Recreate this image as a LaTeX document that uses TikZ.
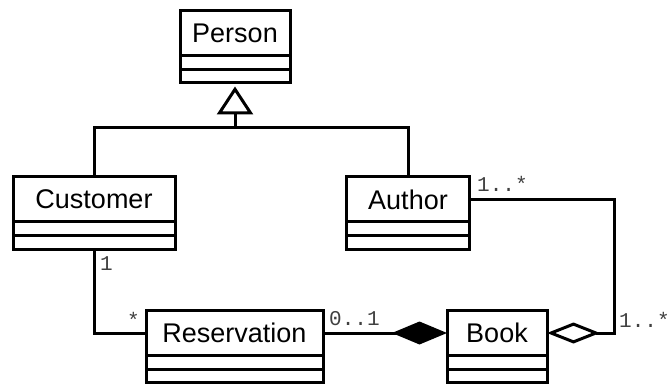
\documentclass[tikz,border=0pt]{standalone}
\usepackage{fontspec}
\setmainfont{Liberation Sans}
\newfontfamily\umlmono{Liberation Mono}
\usetikzlibrary{arrows.meta}

\tikzset{
  classname/.style={draw, line width=3pt, fill=white, outer sep=0pt, inner sep=0pt,
    minimum height=45pt, font=\fontsize{27}{31}\selectfont},
  compartment/.style={draw, line width=3pt, fill=white, outer sep=0pt, inner sep=0pt, anchor=north},
  link/.style={line width=3pt},
  mult/.style={font=\umlmono\fontsize{21}{24}\selectfont, text=black!75, inner sep=0pt, anchor=base west},
  inherit/.style={-{Triangle[open, length=28pt, width=36pt]}, shorten >=4pt},
  composite/.style={-{Diamond[length=55pt, width=23pt]}},
  shared/.style={-{Diamond[open, length=53pt, width=21pt]}},
}

% class box: name section plus two empty compartments
% #1 node name, #2 x, #3 y of the name section centre, #4 width, #5 class name
\newcommand\umlclass[5]{%
  \node[classname, minimum width=#4pt] (#1) at (#2,#3) {#5};
  \node[compartment, minimum width=#4pt, minimum height=14pt] (#1-a) at (#1.south) {};
  \node[compartment, minimum width=#4pt, minimum height=13pt] (#1-b) at (#1-a.south) {};
}

\begin{document}
\begin{tikzpicture}[x=1pt, y=-1pt]
  \useasboundingbox (0,0) rectangle (670,385);

  \umlclass{person}{235}{33}{110}{Person}
  \umlclass{cust}{94}{199.5}{162}{Customer}
  \umlclass{auth}{408}{199.5}{123}{Author}
  \umlclass{res}{234.5}{333}{177}{Reservation}
  \umlclass{book}{497}{333}{100}{Book}

  % generalisation
  \coordinate (genjoin) at (235,128);
  \draw[link] (cust.north) |- (genjoin) -| (auth.north);
  \draw[link, inherit] (genjoin) -- (person-b.south);

  % associations
  \draw[link] (cust-b.south) |- (res.west);
  \draw[link, composite] (res.east) -- (book.west);
  \draw[link, shared] (auth.east) -- ++(145,0) |- (book.east);

  % multiplicities
  \node[mult] (m-auth) at (477,192) {1..*};
  \node[mult] (m-cust) at (100,270) {1};
  \node[mult] (m-res) at (127,327) {*};
  \node[mult] (m-resbook) at (329,325) {0..1};
  \node[mult] (m-book) at (619,327) {1..*};
\end{tikzpicture}
\end{document}
